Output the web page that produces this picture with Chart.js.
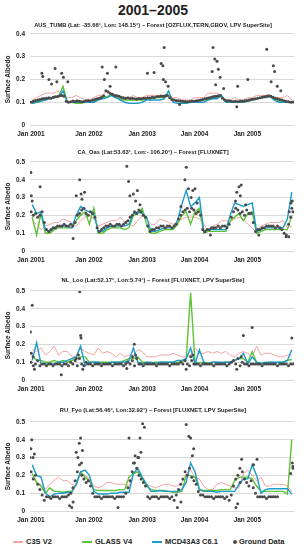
<!DOCTYPE html>
<html>
<head>
<meta charset="utf-8">
<script src="https://cdn.jsdelivr.net/npm/chart.js@4"></script>
<style>
  body { margin: 0; background: #fff; width: 306px; height: 550px; position: relative; overflow: hidden;
         font-family: "Liberation Sans", Arial, sans-serif; color: #222; }
  #title { position: absolute; top: 0; left: 0; width: 306px; text-align: center; font-weight: bold;
           font-size: 14px; line-height: 20px; }
  .sub { position: absolute; left: 0; width: 306px; text-align: center; font-weight: bold; font-size: 5.8px;
         line-height: 8px; white-space: nowrap; z-index: 2; }
  canvas { position: absolute; left: 0; }
  #legend { position: absolute; top: 537px; left: 0; width: 306px; height: 10px; font-weight: bold; font-size: 7.5px; }
  .item { position: absolute; top: 0; line-height: 10px; white-space: nowrap; }
  .ln { display: inline-block; width: 10px; height: 1.5px; vertical-align: middle; margin-right: 3px; }
  .dot { display: inline-block; width: 4px; height: 4px; border-radius: 50%; background: #4d4d4d; vertical-align: middle; margin-right: 2px; }
</style>
</head>
<body>
<div id="title">2001–2005</div>
<div class="sub" style="top:21px">AUS_TUMB (Lat: -35.66°, Lon: 148.15°) – Forest [OZFLUX,TERN,GBOV, LPV SuperSite]</div>
<div class="sub" style="top:148px">CA_Oas (Lat:53.63°, Lon:- 106.20°) – Forest [FLUXNET]</div>
<div class="sub" style="top:276px">NL_Loo (Lat:52.17°, Lon:5.74°) – Forest [FLUXNET, LPV SuperSite]</div>
<div class="sub" style="top:406px">RU_Fyo (Lat:56.46°, Lon:32.92°) – Forest [FLUXNET, LPV SuperSite]</div>

<canvas id="p1" width="306" height="116" style="top:25px"></canvas>
<canvas id="p2" width="306" height="114" style="top:153px"></canvas>
<canvas id="p3" width="306" height="114" style="top:282px"></canvas>
<canvas id="p4" width="306" height="114" style="top:413px"></canvas>

<div id="legend">
  <span class="item" style="left:13px"><span class="ln" style="background:#f4a3a3"></span>C3S V2</span>
  <span class="item" style="left:82px"><span class="ln" style="background:#5cc236"></span>GLASS V4</span>
  <span class="item" style="left:152px"><span class="ln" style="background:#1b9bc9"></span>MCD43A3 C6.1</span>
  <span class="item" style="left:233px"><span class="dot"></span>Ground Data</span>
</div>

<script>
// x axis is in months from Jan 2001 (0) to Jan 2006 (60)
const xTickLabels = ['Jan 2001', 'Jan 2002', 'Jan 2003', 'Jan 2004', 'Jan 2005'];
const xTickPos = [0.2, 13.4, 25.5, 37.4, 49.4];

// ---- AUS_TUMB : monthly products, ground twice a month ----
const ausC3s = [.11,.12,.13,.14,.14,.14,.15,.12,.12,.12,.13,.12, .11,.11,.12,.13,.13,.15,.14,.12,.12,.12,.12,.13,
  .12,.12,.13,.13,.13,.13,.13,.13,.12,.12,.11,.11, .11,.12,.12,.12,.14,.14,.14,.13,.11,.11,.12,.11,
  .11,.12,.12,.13,.13,.13,.13,.12,.12,.12,.13,.11];
const ausGlass = [.095,.10,.105,.11,.12,.12,.125,.17,.10,.10,.095,.095, .10,.10,.10,.11,.12,.125,.13,.12,.115,.11,.11,.11,
  .11,.11,.115,.115,.12,.12,.12,.13,.11,.105,.10,.10, .10,.10,.105,.11,.115,.12,.12,.125,.105,.10,.10,.10,
  .10,.105,.11,.115,.12,.125,.125,.115,.105,.10,.10,.10];
const ausMcd = [.095,.10,.105,.11,.115,.12,.125,.15,.10,.10,.10,.10, .10,.10,.10,.11,.115,.12,.13,.12,.11,.10,.095,.095,
  .095,.10,.11,.11,.11,.11,.115,.15,.10,.095,.095,.095, .10,.10,.10,.10,.11,.115,.115,.13,.10,.10,.10,.10,
  .10,.105,.11,.115,.12,.12,.125,.11,.10,.10,.10,.10];
const ausGround = [.100,.104,.108,.110,.112,.115,.116,.118,.120,.118,.122,.124,
  .125,.128,.130,.127,.104,.100,.102,.105,.103,.106,.104,.102,
  .103,.106,.108,.105,.110,.112,.115,.118,.122,.128,.150,.145,
  .138,.135,.130,.128,.126,.122,.120,.118,.120,.116,.118,.115,
  .114,.116,.115,.118,.117,.120,.119,.122,.121,.124,.125,.127,
  .126,.128,.130,.120,.112,.110,.108,.106,.105,.104,.103,.102,
  .103,.105,.104,.107,.108,.110,.112,.115,.118,.120,.122,.125,
  .126,.128,.130,.118,.110,.107,.106,.104,.103,.104,.102,.105,
  .104,.106,.108,.110,.112,.114,.115,.118,.120,.122,.124,.126,
  .128,.126,.122,.118,.115,.112,.110,.106,.104,.102,.100,.101];
const ausOutliers = [[2.7,.227],[2.9,.213],[4.3,.20],[4.9,.18],[5.7,.248],[6.1,.19],[7.2,.227],[7.6,.21],[8.6,.19],
  [16.4,.255],[16.9,.20],[17.6,.227],[18.2,.17],[19.5,.255],[26.7,.227],[28.2,.23],[29.8,.27],[30.2,.26],[30.5,.34],
  [30.3,.20],[30.8,.19],[31.4,.17],[34,.09],[41.4,.235],[41.6,.34],[42,.29],[42.2,.177],[42.5,.28],[42.8,.245],
  [43.2,.21],[44,.16],[47,.08],[47.2,.17],[49.5,.20],[53.8,.333],[54.8,.19],[55.3,.26],[55.6,.235],[56.2,.17],[57,.15]];

// ---- CA_Oas ----
const caC3s = [.17,.15,.12,.14,.15,.16,.16,.18,.17,.16,.14,.17, .19,.20,.18,.14,.15,.16,.17,.17,.19,.16,.15,.14,
  .17,.20,.18,.15,.15,.18,.17,.16,.15,.16,.18,.19, .19,.19,.18,.15,.11,.14,.15,.17,.17,.16,.18,.19,
  .18,.15,.13,.10,.14,.15,.16,.16,.16,.17,.13,.14];
const caGlass = [.19,.09,.21,.10,.10,.12,.13,.13,.13,.13,.17,.20, .22,.15,.24,.10,.10,.12,.13,.13,.13,.12,.13,.20,
  .21,.24,.15,.10,.10,.11,.12,.12,.12,.15,.20,.22, .15,.22,.24,.10,.11,.11,.11,.11,.11,.17,.19,.21,
  .17,.21,.22,.10,.11,.12,.12,.12,.12,.12,.12,.20];
const caMcd = [.26,.21,.22,.12,.11,.13,.14,.14,.14,.13,.20,.25, .23,.22,.21,.11,.11,.13,.14,.14,.14,.14,.15,.21,
  .22,.21,.19,.11,.11,.12,.13,.13,.13,.17,.26,.34, .25,.27,.30,.11,.12,.12,.12,.12,.12,.20,.27,.26,
  .25,.26,.27,.11,.12,.13,.13,.13,.13,.13,.18,.33];
const caGround = [.22,.20,.21,.19,.20,.22,.16,.12,.11,.12,.13,.13,.14,.14,.14,.15,.14,.14,.15,.14,.16,.20,.21,.23,
  .24,.21,.20,.22,.21,.19,.13,.11,.12,.13,.14,.14,.15,.14,.14,.15,.15,.14,.15,.16,.17,.19,.20,.22,
  .21,.23,.22,.20,.19,.14,.11,.12,.12,.13,.13,.14,.14,.13,.14,.14,.13,.14,.15,.18,.20,.22,.23,.24,
  .22,.24,.23,.21,.22,.20,.12,.11,.12,.12,.13,.13,.13,.14,.13,.14,.14,.13,.15,.19,.22,.24,.23,.21,
  .22,.20,.23,.21,.21,.16,.11,.12,.12,.13,.13,.14,.14,.14,.14,.13,.14,.13,.12,.10,.09,.15,.19,.22];
const caOutliers = [[0.2,.44],[0.3,.31],[0.5,.28],[2.3,.36],[9.8,.07],[10.5,.31],[11.3,.40],[11.6,.32],[11.8,.29],
  [12.4,.33],[22,.476],[22.4,.39],[22.7,.31],[23.5,.32],[24,.28],[24.4,.34],[25,.26],[34.3,.25],[35.2,.40],
  [35.5,.47],[36,.35],[36.6,.30],[37,.34],[37.5,.35],[38,.27],[41,.09],[46.7,.28],[47,.33],[47.5,.36],[47.8,.31],
  [48,.37],[49,.26],[52,.09],[58.2,.08],[58.8,.08],[58.9,.22],[59.3,.27],[59.5,.24],[59.6,.28]];

// ---- NL_Loo ----
const nlC3s = [.17,.16,.18,.14,.16,.19,.14,.16,.16,.13,.13,.18, .16,.15,.14,.18,.15,.16,.15,.13,.15,.13,.14,.14,
  .17,.16,.13,.13,.13,.14,.14,.14,.15,.14,.13,.13, .14,.18,.15,.15,.16,.15,.16,.15,.16,.14,.13,.15,
  .16,.15,.13,.19,.14,.15,.15,.14,.13,.13,.14,.14];
const nlGlass = [.14,.11,.11,.10,.10,.11,.10,.11,.10,.11,.12,.13, .13,.10,.10,.10,.10,.10,.10,.10,.10,.11,.12,.12,
  .13,.10,.10,.095,.10,.10,.10,.10,.10,.10,.10,.12, .49,.10,.095,.10,.095,.10,.10,.095,.10,.10,.11,.12,
  .12,.10,.16,.10,.095,.095,.10,.095,.10,.10,.11,.115];
const nlMcd = [.11,.21,.09,.09,.09,.09,.10,.10,.11,.12,.13,.19, .08,.10,.10,.10,.09,.09,.10,.10,.10,.10,.11,.18,
  .10,.09,.10,.10,.09,.10,.10,.10,.10,.11,.11,.12, .18,.09,.17,.10,.09,.10,.10,.10,.10,.10,.11,.12,
  .15,.09,.13,.10,.09,.10,.10,.10,.10,.10,.11,.17];
const nlGround = [.10,.08,.09,.11,.08,.09,.09,.08,.09,.09,.08,.09,.09,.09,.08,.09,.09,.08,.10,.09,.11,.08,.12,.09,
  .08,.10,.09,.09,.08,.09,.09,.09,.08,.09,.09,.09,.09,.08,.09,.09,.09,.09,.08,.09,.10,.09,.11,.08,
  .12,.09,.09,.08,.09,.09,.09,.09,.09,.08,.09,.09,.09,.09,.09,.08,.09,.09,.09,.09,.10,.09,.11,.09,
  .08,.11,.09,.09,.09,.08,.09,.09,.09,.09,.09,.08,.09,.09,.09,.09,.09,.08,.09,.10,.11,.09,.12,.08,
  .10,.09,.09,.08,.09,.09,.09,.09,.09,.08,.09,.09,.09,.09,.09,.09,.08,.09,.09,.09,.09,.08,.09,.09];
const nlOutliers = [[0.1,.27],[0.3,.15],[0.5,.42],[0.7,.13],[1,.06],[7.1,.03],[10.5,.12],[11,.14],[11.3,.495],
  [11.5,.25],[11.6,.235],[12,.06],[22,.065],[23.3,.13],[23.7,.20],[24,.14],[35.5,.06],[36.5,.13],[37,.14],
  [47,.06],[48,.13],[48.5,.25],[50.5,.295],[59.5,.235]];

// ---- RU_Fyo ----
const ruC3s = [.19,.16,.15,.12,.15,.17,.19,.17,.17,.15,.14,.22, .20,.18,.14,.13,.14,.16,.16,.15,.15,.15,.14,.21,
  .23,.18,.15,.14,.13,.14,.15,.15,.14,.14,.16,.21, .23,.19,.18,.14,.12,.12,.15,.16,.15,.14,.13,.13,
  .21,.23,.20,.17,.19,.14,.14,.15,.15,.15,.14,.11];
const ruGlass = [.21,.16,.14,.10,.13,.11,.11,.105,.11,.11,.15,.22, .19,.17,.12,.115,.115,.115,.115,.115,.12,.12,.19,.21,
  .22,.18,.14,.12,.115,.115,.115,.11,.105,.105,.11,.20, .20,.19,.12,.115,.115,.115,.115,.12,.12,.12,.17,.19,
  .19,.19,.18,.14,.11,.11,.11,.11,.11,.11,.095,.40];
const ruMcd = [.26,.20,.19,.10,.08,.095,.10,.10,.105,.105,.15,.22, .23,.20,.11,.095,.095,.095,.10,.10,.105,.105,.105,.21,
  .24,.19,.15,.11,.11,.115,.11,.11,.11,.11,.12,.16, .27,.22,.12,.11,.11,.11,.105,.11,.11,.11,.11,.15,
  .18,.18,.26,.20,.10,.12,.125,.125,.125,.125,.125,.095];
const ruGround = [.22,.18,.20,.15,.12,.09,.06,.08,.08,.07,.08,.08,.08,.07,.08,.08,.08,.09,.10,.13,.17,.22,.26,.20,
  .18,.16,.17,.14,.10,.08,.08,.08,.07,.08,.08,.08,.08,.08,.07,.08,.08,.08,.08,.10,.13,.17,.22,.27,
  .24,.20,.18,.16,.14,.08,.07,.08,.08,.08,.07,.08,.08,.08,.08,.07,.08,.06,.09,.12,.15,.18,.22,.20,
  .24,.19,.17,.15,.11,.09,.09,.08,.08,.08,.08,.07,.08,.08,.08,.08,.07,.08,.06,.09,.14,.18,.20,.16,
  .22,.18,.16,.14,.17,.13,.10,.08,.08,.08,.08,.07,.08,.08,.08,.08,.08,null,null,null,null,null,.21,.25];
const ruOutliers = [[0,.30],[0.2,.35],[0.4,.40],[0.7,.30],[1,.32],[9,.03],[9.5,.02],[9.8,.05],[10.5,.33],[10.9,.30],
  [11.2,.38],[11.5,.41],[11.7,.27],[11.9,.34],[20,.02],[22.5,.41],[23.5,.27],[23.9,.31],[24.5,.30],[24.7,.30],
  [25,.41],[25.2,.33],[25.6,.49],[26,.47],[33.5,.02],[34.3,.05],[35.5,.485],[36.1,.42],[36.5,.41],[36.9,.31],
  [37.2,.35],[46.8,.02],[47.2,.04],[47.7,.24],[48.1,.29],[50.8,.26],[51.6,.29],[59.6,.27],[59.8,.24]];

const C3S_COLOR = '#f4a3a3';
const GLASS_COLOR = '#5cc236';
const MCD_COLOR = '#1b9bc9';
const GROUND_COLOR = '#4a4a4a';
const FONT = '"Liberation Sans", Arial, sans-serif';

function monthly(arr) {
  return arr.map((v, i) => ({ x: i + 0.5, y: v }));
}
function halfMonthly(arr) {
  return arr.map((v, i) => ({ x: i / 2 + 0.25, y: v }));
}
function pairs(arr) {
  return arr.map(p => ({ x: p[0], y: p[1] }));
}

function makePanel(id, c3s, glass, mcd, ground, outliers, yMax) {
  const dot = {
    showLine: false, pointRadius: 1.5, pointBorderWidth: 0,
    pointBackgroundColor: GROUND_COLOR, borderColor: GROUND_COLOR, order: 0
  };
  new Chart(document.getElementById(id), {
    type: 'line',
    data: {
      datasets: [
        { label: 'C3S V2', data: monthly(c3s), borderColor: C3S_COLOR, borderWidth: 1, pointRadius: 0, order: 3 },
        { label: 'GLASS V4', data: monthly(glass), borderColor: GLASS_COLOR, borderWidth: 1.4, pointRadius: 0, order: 2 },
        { label: 'MCD43A3 C6.1', data: monthly(mcd), borderColor: MCD_COLOR, borderWidth: 1.4, pointRadius: 0, order: 1 },
        Object.assign({ label: 'Ground Data', data: halfMonthly(ground) }, dot),
        Object.assign({ label: 'Ground Data', data: pairs(outliers) }, dot)
      ]
    },
    options: {
      responsive: false,
      animation: false,
      devicePixelRatio: 1,
      layout: { padding: { top: 6, right: 12, bottom: 0, left: 0 } },
      plugins: { legend: { display: false }, tooltip: { enabled: false }, title: { display: false } },
      scales: {
        x: {
          type: 'linear', min: 0, max: 60,
          grid: { display: false, drawTicks: false },
          border: { display: false },
          afterBuildTicks: s => { s.ticks = xTickPos.map(v => ({ value: v })); },
          afterFit: s => { s.height = 16; },
          ticks: {
            autoSkip: false, maxRotation: 0, padding: 5, color: '#222',
            font: { family: FONT, size: 6.5, weight: 'bold' },
            callback: (v, i) => xTickLabels[i]
          }
        },
        y: {
          min: 0, max: yMax,
          grid: { color: '#d9d9d9', lineWidth: 1, drawTicks: false },
          border: { display: false },
          afterFit: s => { s.width = 30; },
          ticks: {
            stepSize: 0.1, padding: 5, color: '#222',
            font: { family: FONT, size: 6.5, weight: 'bold' },
            callback: v => v === 0 ? '0' : v.toFixed(1)
          },
          title: {
            display: true, text: 'Surface Albedo', color: '#222',
            font: { family: FONT, size: 6.5, weight: 'bold' }, padding: { top: 4, bottom: 0 }
          }
        }
      }
    }
  });
}

makePanel('p1', ausC3s, ausGlass, ausMcd, ausGround, ausOutliers, 0.4);
makePanel('p2', caC3s, caGlass, caMcd, caGround, caOutliers, 0.5);
makePanel('p3', nlC3s, nlGlass, nlMcd, nlGround, nlOutliers, 0.5);
makePanel('p4', ruC3s, ruGlass, ruMcd, ruGround, ruOutliers, 0.5);
</script>
</body>
</html>
